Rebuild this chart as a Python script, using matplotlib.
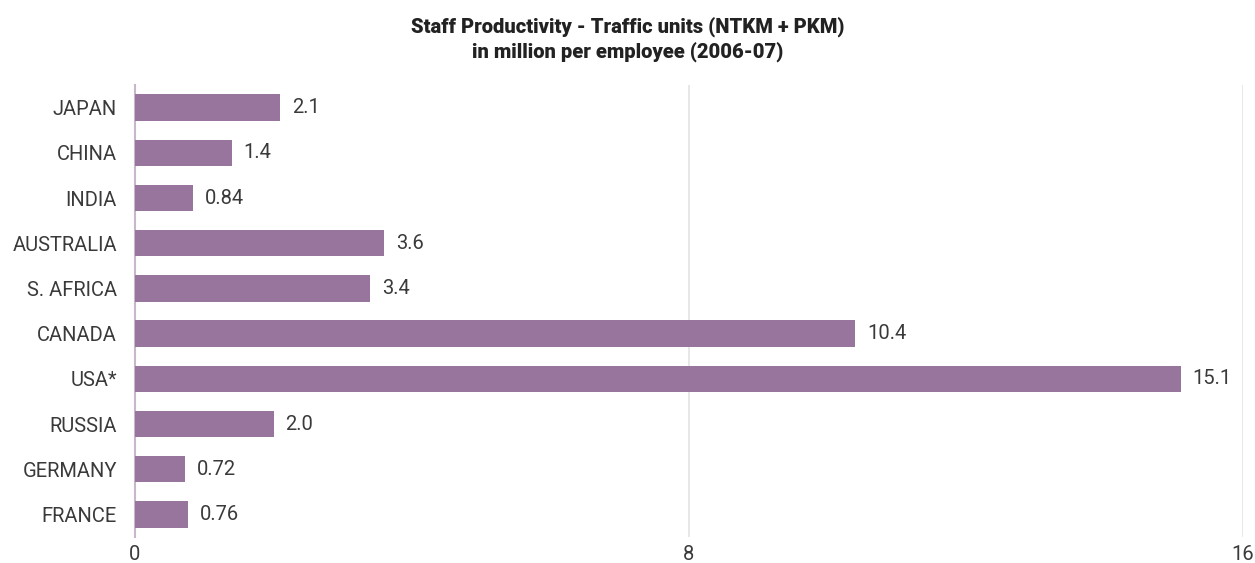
import matplotlib
matplotlib.use("Agg")
import matplotlib.pyplot as plt

countries = ["JAPAN", "CHINA", "INDIA", "AUSTRALIA", "S. AFRICA", "CANADA", "USA*", "RUSSIA", "GERMANY", "FRANCE"]
values = [2.1, 1.4, 0.84, 3.6, 3.4, 10.4, 15.1, 2.0, 0.72, 0.76]
labels = ["2.1", "1.4", "0.84", "3.6", "3.4", "10.4", "15.1", "2.0", "0.72", "0.76"]
xticks = [0, 8, 16]

plt.rcParams['font.family'] = ['Roboto', 'DejaVu Sans']

fig = plt.figure(figsize=(12.55, 5.63), dpi=100)
ax = fig.add_axes([135/1255, 1 - 537/563, (1243-135)/1255, (537-85)/563])

txtcol = "#3a3a3a"
ypos = list(range(len(countries)))
ax.barh(ypos, values, height=0.58, color="#97759C", zorder=3)
for y, v, l in zip(ypos, values, labels):
    ax.text(v + 0.17, y, l, va="center", ha="left", fontsize=14.5, color=txtcol)

ax.set_ylim(len(countries) - 0.5, -0.5)
ax.set_xlim(0, 16)
ax.set_yticks(ypos)
ax.set_yticklabels(countries, fontsize=14.5, color=txtcol)
ax.set_xticks(xticks)
ax.set_xticklabels([str(t) for t in xticks], fontsize=14.5, color=txtcol)
ax.tick_params(axis="both", length=0)
ax.tick_params(axis="y", pad=13)
ax.tick_params(axis="x", pad=6)
ax.xaxis.grid(True, color="#e3e3e3", linewidth=1.2, zorder=0)
for s in ["top", "right", "bottom"]:
    ax.spines[s].set_visible(False)
ax.spines["left"].set_color("#c9b6cd")
ax.spines["left"].set_linewidth(1.5)

fig.text(628/1255, 1 - 39/563, "Staff Productivity - Traffic units (NTKM + PKM)\nin million per employee (2006-07)",
         ha="center", va="center", fontsize=14.5, fontweight="heavy", color="#222222", linespacing=1.25)

fig.savefig("out.png", dpi=100)
